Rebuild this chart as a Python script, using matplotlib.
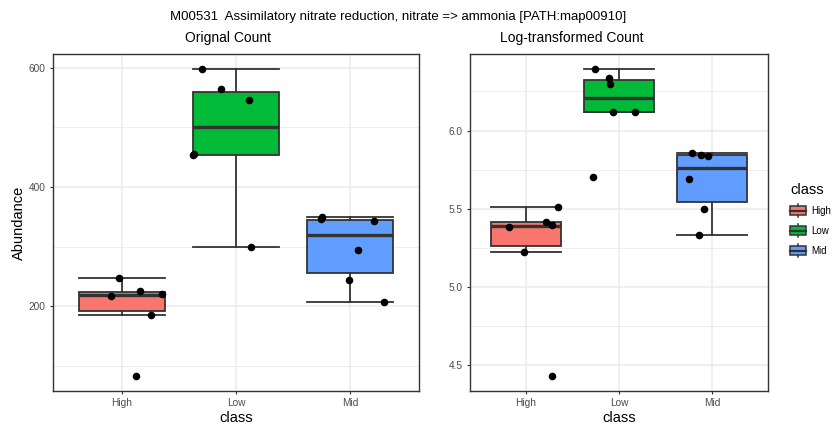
import numpy as np
import matplotlib
matplotlib.use("Agg")
import matplotlib.pyplot as plt
from matplotlib.patches import Patch, Rectangle
from matplotlib.lines import Line2D
from matplotlib.legend_handler import HandlerBase

plt.rcParams['font.family'] = ['Liberation Sans', 'DejaVu Sans']

classes = ["High", "Low", "Mid"]
colors = ["#F8766D", "#00BA38", "#619CFF"]

# abundance per sample
high_counts = [248, 217.5, 225, 221, 185, 84]
low_counts = [597, 564, 545, 453, 455, 300]
mid_counts = [349, 346, 343, 295, 244, 207]

# jitter offsets of each sample (left panel / right panel)
high_jit_left = [-0.02, -0.09, 0.16, 0.35, 0.26, 0.13]
low_jit_left = [-0.30, -0.13, 0.11, -0.38, -0.37, 0.13]
mid_jit_left = [-0.25, -0.26, 0.21, 0.07, -0.01, 0.29]

high_jit_right = [0.34, -0.18, 0.22, 0.28, -0.02, 0.28]
low_jit_right = [-0.26, -0.11, -0.10, -0.06, 0.17, -0.28]
mid_jit_right = [-0.22, -0.12, -0.04, -0.25, -0.09, -0.14]

title = "M00531  Assimilatory nitrate reduction, nitrate => ammonia [PATH:map00910]"

W, H = 835, 424
EDGE = "#333333"


class BoxKeyHandler(HandlerBase):
    def create_artists(self, legend, orig_handle, xdescent, ydescent,
                       width, height, fontsize, trans):
        x0, y0 = -xdescent, -ydescent
        cx = x0 + width / 2
        whisk = Line2D([cx, cx], [y0, y0 + height],
                       color=EDGE, lw=1.1, transform=trans)
        box = Rectangle((x0, y0 + height * 0.15), width, height * 0.7,
                        facecolor=orig_handle.get_facecolor(), edgecolor=EDGE,
                        lw=1.1, transform=trans)
        med = Line2D([x0, x0 + width], [y0 + height / 2] * 2,
                     color=EDGE, lw=1.6, transform=trans)
        return [whisk, box, med]


def px_rect(x0, y0, x1, y1):
    return [x0 / W, 1 - y1 / H, (x1 - x0) / W, (y1 - y0) / H]


def draw_panel(ax, groups, jitters, major, minor):
    ax.set_axisbelow(True)
    bp = ax.boxplot(groups, positions=[1, 2, 3], widths=0.75, capwidths=0.75,
                    patch_artist=True, showfliers=False, whis=1.5,
                    boxprops=dict(edgecolor=EDGE, linewidth=1.3),
                    whiskerprops=dict(color=EDGE, linewidth=1.3),
                    capprops=dict(color=EDGE, linewidth=1.3),
                    medianprops=dict(color=EDGE, linewidth=2.4))
    for patch, c in zip(bp["boxes"], colors):
        patch.set_facecolor(c)
    for i, (vals, jit) in enumerate(zip(groups, jitters)):
        ax.scatter(np.array(jit) + i + 1, vals, s=30, color="black", zorder=5,
                   linewidths=0)
    allv = np.concatenate(groups)
    pad = (allv.max() - allv.min()) * 0.05
    ax.set_ylim(allv.min() - pad, allv.max() + pad)
    ax.set_xlim(0.4, 3.6)
    ax.set_xticks([1, 2, 3])
    ax.set_xticklabels(classes)
    ax.set_yticks(major)
    ax.set_yticks(minor, minor=True)
    ax.grid(True, which="major", color="#EBEBEB", linewidth=1.1)
    ax.grid(True, which="minor", axis="y", color="#EBEBEB", linewidth=0.6)
    ax.tick_params(which="major", length=2.2, width=0.8, color=EDGE,
                   labelsize=7.3, labelcolor="#4D4D4D", pad=3)
    ax.tick_params(which="minor", length=0)
    for sp in ax.spines.values():
        sp.set_color(EDGE)
        sp.set_linewidth(1.0)
    ax.set_xlabel("class", fontsize=10.5, labelpad=2)


fig = plt.figure(figsize=(W / 100, H / 100), dpi=100)

ax1 = fig.add_axes(px_rect(53, 54, 419, 391))
draw_panel(ax1, [high_counts, low_counts, mid_counts],
           [high_jit_left, low_jit_left, mid_jit_left],
           [200, 400, 600], [100, 300, 500])
ax1.set_ylabel("Abundance", fontsize=10.5, labelpad=2)

ax2 = fig.add_axes(px_rect(470, 54, 768, 391))
log_groups = [np.log(high_counts), np.log(low_counts), np.log(mid_counts)]
draw_panel(ax2, log_groups,
           [high_jit_right, low_jit_right, mid_jit_right],
           [4.5, 5.0, 5.5, 6.0], [4.75, 5.25, 5.75, 6.25])
ax2.yaxis.set_major_formatter(plt.FormatStrFormatter("%.1f"))

fig.text(398 / W, 1 - 17 / H, title, ha="center", va="center", fontsize=9.5)
fig.text(228 / W, 1 - 38 / H, "Orignal Count", ha="center", va="center",
         fontsize=10)
fig.text(572 / W, 1 - 38 / H, "Log-transformed Count", ha="center",
         va="center", fontsize=10)

handles = [Patch(facecolor=c, edgecolor=EDGE) for c in colors]
leg = fig.legend(handles, classes, title="class", loc="upper left",
                 bbox_to_anchor=(786 / W, 1 - 179 / H), frameon=False,
                 fontsize=7, title_fontsize=10.5, handlelength=1.65,
                 handleheight=1.6, labelspacing=0.77, handletextpad=0.5,
                 borderaxespad=0, handler_map={Patch: BoxKeyHandler()})
leg._legend_box.align = "left"

fig.savefig("out.png", dpi=100)
